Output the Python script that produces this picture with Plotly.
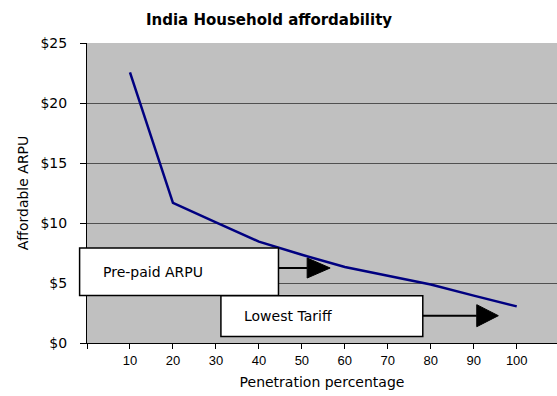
import plotly.graph_objects as go

# ---- data ----
penetration = [10, 20, 30, 40, 50, 60, 70, 80, 90, 100]
affordable_arpu = [22.55, 11.67, 10.05, 8.45, 7.35, 6.33, 5.6, 4.88, 3.95, 3.05]
x_tick_vals = [0, 10, 20, 30, 40, 50, 60, 70, 80, 90, 100]
x_tick_text = ["", "10", "20", "30", "40", "50", "60", "70", "80", "90", "100"]
box_labels = ["Pre-paid ARPU", "Lowest Tariff"]

W, H = 557, 396
L, T, B = 86.7, 43.3, 343.3   # pixel coordinates of plot area
R = W
PW, PH = R - L, B - T

def px(x):
    return (x - L) / PW

def py(y):
    return (B - y) / PH

ARIAL = "Arial, Liberation Sans, Helvetica, sans-serif"
WIDE = "DejaVu Sans, Verdana, sans-serif"

fig = go.Figure()
fig.add_trace(go.Scatter(
    x=penetration, y=affordable_arpu, mode="lines",
    line=dict(color="#000080", width=2.5), showlegend=False, hoverinfo="skip",
))

shapes = []
annotations = []

# boxes: (left, top, right, bottom) in px, text x start, arrow y, base x, tip x, tri half height
boxes = [
    (79.3, 248.3, 278.3, 295.7, 101, 268.3, 307, 330, 10),
    (220.7, 296.0, 422.7, 336.7, 241.7, 316.0, 476.7, 498.3, 11),
]
for label, (l, t, r, b, tx, ay, bx, tip, hh) in zip(box_labels, boxes):
    shapes.append(dict(type="rect", xref="paper", yref="paper",
                       x0=px(l), x1=px(r), y0=py(b), y1=py(t),
                       fillcolor="white", line=dict(color="black", width=1.5),
                       layer="above"))
    shapes.append(dict(type="line", xref="paper", yref="paper",
                       x0=px(r), x1=px(bx), y0=py(ay), y1=py(ay),
                       line=dict(color="black", width=2), layer="above"))
    path = "M {} {} L {} {} L {} {} Z".format(px(bx), py(ay - hh), px(tip), py(ay), px(bx), py(ay + hh))
    shapes.append(dict(type="path", xref="paper", yref="paper", path=path,
                       fillcolor="black", line=dict(color="black", width=1), layer="above"))
    annotations.append(dict(xref="paper", yref="paper", x=px(tx), y=py((t + b) / 2),
                            xanchor="left", yanchor="middle", text=label, showarrow=False,
                            font=dict(family=WIDE, size=14, color="black")))

fig.update_layout(
    width=W, height=H,
    margin=dict(l=L, r=0, t=T, b=H - B, pad=0),
    paper_bgcolor="white", plot_bgcolor="#c0c0c0",
    font=dict(family=ARIAL, size=12, color="black"),
    title=dict(text="<b>India Household affordability</b>", x=269 / W, xanchor="center",
               y=1 - 20 / H, yanchor="middle", font=dict(family=WIDE, size=15, color="black")),
    xaxis=dict(range=[0, PW / 4.3], tickvals=x_tick_vals, ticktext=x_tick_text,
               showgrid=False, zeroline=False, showline=True, linecolor="black", linewidth=1,
               ticks="outside", ticklen=5, tickcolor="black",
               tickfont=dict(family=ARIAL, size=13),
               title=dict(text="Penetration percentage", font=dict(family=WIDE, size=14), standoff=10)),
    yaxis=dict(range=[0, 25], dtick=5, tickprefix="$",
               showgrid=True, gridcolor="#505050", gridwidth=1, zeroline=False,
               showline=True, linecolor="black", linewidth=1,
               ticks="outside", ticklen=6, tickcolor="black", ticklabelstandoff=10,
               tickfont=dict(family=WIDE, size=14),
               title=dict(text="Affordable ARPU", font=dict(family=WIDE, size=14), standoff=8)),
    shapes=shapes, annotations=annotations,
    hovermode=False,
)

fig.write_html("out.html",
               config={"displayModeBar": False},
               post_script="document.body.style.margin='0';document.body.style.overflow='hidden';")
